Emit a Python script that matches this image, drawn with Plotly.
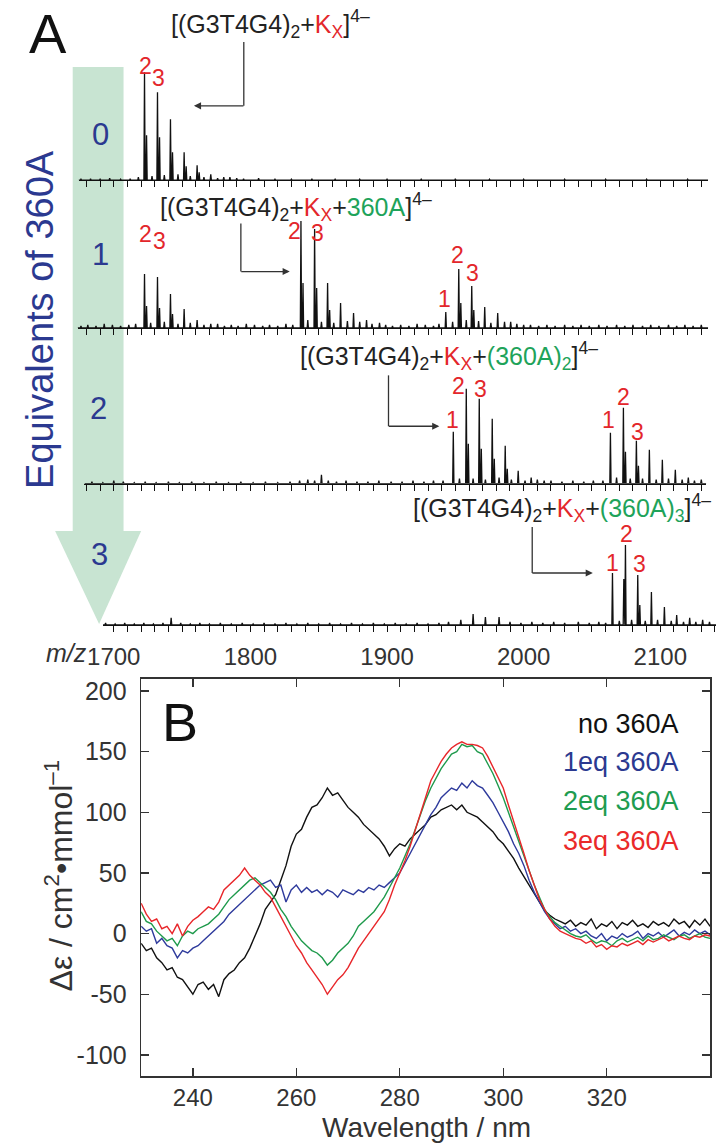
import plotly.graph_objects as go

W, H = 717, 1145
FONT = "Liberation Sans, Arial, sans-serif"
RED = "#e3262b"
GREEN = "#1ea35a"
NAVY = "#2b3990"
GREY = "#333333"

def xp(px):
    return px / W

def yp(py):
    return 1 - py / H

# ---------------- Panel A : mass spectra (m/z, relative intensity) ----------------
mz_label_vals = [1700, 1800, 1900, 2000, 2100]
mz_labels = ["1700", "1800", "1900", "2000", "2100"]

# 0 equivalents
peaks0_mz = [1722.5, 1724.0, 1732.0, 1733.5, 1741.5, 1743.0, 1751.5, 1753.0, 1761.0, 1762.5, 1771.0, 1780.5, 1790.0]
peaks0_h = [108, 45, 88, 43, 61, 28, 28, 14, 15, 8, 6, 3, 2]
noise0_mz = [1676, 1683, 1690, 1697, 1705, 1712, 1718, 1728, 1737, 1747, 1756, 1766, 1776, 1785, 1795,
             1806, 1818, 1830, 1845, 1862, 1880, 1900, 1925, 1950, 1975, 2000, 2030, 2060, 2090, 2120]
noise0_h = [1, 1.5, 1, 2, 1, 1.5, 3, 4, 5, 6, 4, 3, 2, 3, 1.5, 2, 1, 1, 1.5, 1, 1, 1, 1, 1.5, 1, 1, 1, 1, 1, 1]

# 1 equivalent
peaks1_mz = [1722.5, 1724.0, 1732.0, 1733.5, 1741.5, 1743.0, 1751.5, 1761.0, 1771.0,
             1837.0, 1838.5, 1847.0, 1848.5, 1856.5, 1858.0, 1866.0, 1875.5, 1885.0, 1894.5,
             1943.0, 1952.5, 1954.0, 1962.0, 1963.5, 1971.5, 1981.0, 1990.5, 2000.0]
peaks1_h = [54, 22, 51, 20, 34, 14, 19, 8, 4,
            107, 45, 99, 40, 45, 18, 25, 15, 8, 5,
            16, 59, 25, 42, 18, 21, 15, 6, 3]
noise1_mz = [1676, 1681, 1687, 1693, 1699, 1705, 1711, 1716, 1727, 1737, 1747, 1756, 1766, 1776, 1781,
             1786, 1791, 1797, 1803, 1809, 1814, 1820, 1826, 1831, 1842, 1852, 1861, 1871, 1880, 1889,
             1899, 1904, 1910, 1916, 1922, 1928, 1934, 1938, 1948, 1958, 1967, 1976, 1986, 1995, 2005,
             2011, 2017, 2023, 2030, 2036, 2042, 2048, 2055, 2061, 2068, 2074, 2080, 2087, 2093, 2099,
             2106, 2112, 2118, 2124, 2130, 2136]
noise1_h = [2, 3, 2, 4, 3, 2, 3, 4, 5, 6, 4, 5, 3, 4, 2,
            3, 2, 4, 3, 2, 3, 2, 4, 3, 8, 6, 5, 7, 6, 4,
            3, 2, 3, 2, 4, 3, 2, 4, 6, 8, 7, 5, 6, 4, 3,
            2, 3, 2, 3, 2, 3, 2, 3, 2, 3, 2, 3, 2, 3, 2,
            3, 2, 3, 2, 3, 2]

# 2 equivalents
peaks2_mz = [1948.5, 1958.0, 1959.5, 1967.5, 1969.0, 1977.0, 1978.5, 1986.5, 1988.0, 1996.0, 2005.5, 2015.0,
             2063.5, 2073.0, 2074.5, 2082.5, 2084.0, 2092.0, 2101.5, 2111.0, 2120.5, 2130.0]
peaks2_h = [52, 95, 40, 85, 35, 65, 25, 38, 15, 13, 6, 3,
            51, 76, 32, 43, 18, 34, 24, 14, 6, 4]
noise2_mz = [1676, 1684, 1692, 1700, 1707, 1715, 1723, 1731, 1740, 1748, 1757, 1766, 1775, 1784, 1793,
             1802, 1811, 1820, 1829, 1836, 1842, 1847, 1852, 1857, 1863, 1870, 1878, 1886, 1894, 1903,
             1911, 1919, 1927, 1934, 1941, 1953, 1963, 1972, 1982, 1991, 2001, 2010, 2020, 2028, 2036,
             2044, 2051, 2058, 2068, 2078, 2087, 2097, 2106, 2116, 2125, 2134]
noise2_h = [1, 2, 1, 3, 2, 1, 2, 1, 2, 1, 2, 1, 2, 1, 2,
            1, 2, 1, 2, 3, 4, 3, 9, 3, 2, 3, 2, 2, 3, 2,
            2, 3, 2, 3, 3, 5, 5, 4, 6, 4, 3, 4, 3, 2, 3,
            2, 3, 3, 6, 5, 5, 4, 5, 4, 3, 3]

# 3 equivalents
peaks3_mz = [2065.0, 2073.3, 2074.5, 2083.5, 2085.0, 2093.5, 2103.0, 2112.0, 2121.5, 2131.0]
peaks3_h = [52, 46, 80, 50, 20, 33, 18, 10, 7, 5]
noise3_mz = [1694, 1701, 1708, 1715, 1722, 1729, 1736, 1742, 1749, 1756, 1763, 1770, 1778, 1786, 1794,
             1802, 1810, 1818, 1826, 1834, 1842, 1850, 1858, 1866, 1874, 1882, 1890, 1898, 1906, 1914,
             1922, 1930, 1938, 1945, 1954, 1963, 1972, 1982, 1990, 1998, 2006, 2014, 2022, 2030, 2040,
             2048, 2055, 2060, 2070, 2079, 2089, 2098, 2108, 2117, 2126, 2136]
noise3_h = [2, 1, 2, 1, 2, 1, 2, 7, 2, 1, 2, 1, 2, 1, 2,
            1, 2, 1, 2, 1, 2, 1, 2, 1, 2, 1, 2, 1, 2, 1,
            2, 1, 2, 3, 5, 11, 8, 8, 3, 2, 3, 2, 3, 2, 3,
            2, 3, 2, 4, 5, 4, 5, 4, 3, 3, 3]

eq_labels = ["0", "1", "2", "3"]

# ---------------- Panel B : CD spectra ----------------
wavelength = list(range(230, 341))
cd_no = [-8, -14, -12, -20, -24, -30, -28, -36, -38, -44,
         -50, -42, -40, -46, -42, -52, -38, -33, -30, -24,
         -20, -12, -2, 8, 20, 26, 32, 44, 56, 72,
         82, 86, 96, 104, 106, 112, 120, 114, 116, 110,
         104, 100, 96, 90, 86, 82, 78, 72, 64, 70,
         74, 72, 78, 82, 86, 90, 96, 98, 102, 104,
         106, 102, 106, 100, 98, 96, 92, 88, 84, 78,
         74, 68, 62, 54, 47, 40, 32, 25, 19, 15,
         12, 10, 8, 11, 6, 9, 7, 12, 4, 8,
         6, 10, 4, 9, 7, 11, 6, 8, 5, 10,
         7, 9, 6, 12, 8, 10, 5, 11, 7, 12,
         6]
cd_1eq = [6, 2, 4, -8, -4, -10, -12, -20, -14, -16,
          -12, -10, -6, -2, 2, 6, 10, 16, 20, 24,
          28, 32, 36, 40, 42, 44, 38, 40, 26, 36,
          40, 34, 38, 34, 36, 32, 36, 34, 30, 36,
          34, 32, 36, 34, 38, 36, 40, 38, 42, 46,
          50, 58, 66, 74, 82, 90, 98, 104, 112, 116,
          120, 118, 124, 120, 126, 122, 120, 114, 108, 100,
          92, 84, 74, 66, 56, 44, 34, 26, 18, 12,
          8, 4, 6, 2, 4, 0, 2, -2, -4, 0,
          -6, -2, -4, 0, -3, -1, 2, -4, 0, -2,
          1, -3, 0, 3, -2, 1, -1, 3, 0, 2,
          -1]
cd_2eq = [18, 10, 8, 2, -2, -6, -4, -10, -2, 2,
          0, 4, 6, 8, 12, 16, 22, 28, 32, 36,
          40, 44, 46, 42, 38, 34, 28, 20, 14, 6,
          0, -6, -10, -14, -16, -20, -26, -22, -16, -12,
          -8, -2, 6, 10, 14, 18, 24, 30, 38, 46,
          54, 64, 74, 86, 98, 110, 120, 128, 136, 142,
          148, 150, 156, 154, 155, 150, 148, 140, 132, 122,
          112, 100, 88, 76, 64, 52, 40, 30, 20, 14,
          9, 6, 3, 0, -2, -3, -1, -5, -8, -6,
          -7, -10, -6, -4, -7, -5, -3, -6, -2, -5,
          -4, -1, -3, -5, -2, -1, -4, -2, 0, -3,
          -4]
cd_3eq = [25, 16, 10, 12, 4, 6, 0, 8, -2, 6,
          11, 14, 18, 22, 20, 26, 36, 40, 44, 48,
          54, 48, 44, 40, 34, 30, 22, 14, 6, -2,
          -10, -16, -24, -30, -36, -42, -50, -44, -38, -34,
          -28, -20, -12, -6, 0, 6, 11, 18, 28, 40,
          50, 60, 72, 86, 98, 112, 126, 134, 142, 148,
          153, 156, 158, 156, 156, 155, 153, 146, 137, 128,
          120, 106, 93, 80, 66, 52, 39, 28, 20, 12,
          6, 2, 0, -2, -4, -5, -8, -6, -11, -9,
          -13, -10, -11, -8, -10, -8, -6, -9, -5, -7,
          -5, -3, -6, -4, -2, -4, -5, -2, -3, -1,
          -2]
cd_names = ["no 360A", "1eq 360A", "2eq 360A", "3eq 360A"]
cd_colors = ["#111111", "#2e3a9c", "#1f9a4c", "#e8262a"]
wl_ticks = [240, 260, 280, 300, 320]
cd_ticks = [-100, -50, 0, 50, 100, 150, 200]
cd_tick_labels = ["-100", "-50", "0", "50", "100", "150", "200"]

# ---------------- figure ----------------
fig = go.Figure()

PX0, PXS = 100.0, 1.3975  # pixel of m/z 1700, pixels per m/z unit

def mz_at(px):
    return 1700 + (px - PX0) / PXS

spectra = [
    (peaks0_mz, peaks0_h, noise0_mz, noise0_h, 178.5, 64, 708),
    (peaks1_mz, peaks1_h, noise1_mz, noise1_h, 326.5, 63, 708),
    (peaks2_mz, peaks2_h, noise2_mz, noise2_h, 482.5, 70, 706),
    (peaks3_mz, peaks3_h, noise3_mz, noise3_h, 624.0, 89, 716),
]
tick_vals = list(range(1670, 2150, 10))

for i, (pm, ph, nm, nh, base, x0, x1) in enumerate(spectra):
    k = i + 1
    sfx = "" if k == 1 else str(k)
    lo, hi = mz_at(x0), mz_at(x1)
    pts = sorted(list(zip(pm, ph)) + list(zip(nm, nh)))
    xs, ys = [lo], [0]
    for m, v in pts:
        if lo < m < hi:
            xs += [m - 0.45, m, m + 0.45]
            ys += [0, v, 0]
    xs.append(hi)
    ys.append(0)
    fig.add_trace(go.Scatter(x=xs, y=ys, mode="lines", line=dict(color="#111111", width=1.3),
                             xaxis="x" + sfx, yaxis="y" + sfx, showlegend=False, hoverinfo="skip"))
    last = (k == 4)
    fig.layout["xaxis" + sfx] = dict(
        domain=[xp(x0), xp(x1)], range=[lo, hi], anchor="y" + sfx,
        showline=True, linecolor="#111111", linewidth=1.3,
        ticks="outside", ticklen=6, tickwidth=1, tickcolor="#111111",
        tickvals=tick_vals,
        ticktext=[(mz_labels[mz_label_vals.index(v)] if (last and v in mz_label_vals) else "") for v in tick_vals],
        showticklabels=last, showgrid=False, zeroline=False,
        tickfont=dict(family=FONT, size=24, color=GREY),
        ticklabelstandoff=4,
    )
    fig.layout["yaxis" + sfx] = dict(
        domain=[yp(base), yp(base - 125)], range=[0, 125], anchor="x" + sfx,
        visible=False, showgrid=False, zeroline=False,
    )

# CD traces
for vals, name, col in zip([cd_no, cd_1eq, cd_2eq, cd_3eq], cd_names, cd_colors):
    fig.add_trace(go.Scatter(x=wavelength, y=vals, mode="lines", name=name,
                             line=dict(color=col, width=1.4), xaxis="x5", yaxis="y5",
                             showlegend=False, hoverinfo="skip"))

fig.layout["xaxis5"] = dict(
    domain=[xp(128), xp(710)], range=[230, 340], anchor="y5",
    showline=True, mirror="ticks", linecolor=GREY, linewidth=1.5,
    ticks="inside", ticklen=8, tickcolor=GREY, tickwidth=1.3, tickvals=wl_ticks,
    showgrid=False, zeroline=False, tickfont=dict(family=FONT, size=24, color=GREY),
    ticklabelstandoff=0,
)
fig.layout["yaxis5"] = dict(
    domain=[yp(1076), yp(678)], range=[-117.5, 210], anchor="x5",
    showline=True, mirror="ticks", linecolor=GREY, linewidth=1.5,
    ticks="inside", ticklen=8, tickcolor=GREY, tickwidth=1.3,
    tickvals=cd_ticks, ticktext=cd_tick_labels,
    showgrid=False, zeroline=False, tickfont=dict(family=FONT, size=25, color=GREY),
    ticklabelstandoff=8,
)

# ---------------- decorations ----------------
shapes = []
band = "#c8e4d2"
shapes.append(dict(type="rect", xref="paper", yref="paper", x0=xp(58), x1=xp(110), y0=yp(531), y1=yp(65),
                   fillcolor=band, line=dict(width=0), layer="below"))
shapes.append(dict(type="path", xref="paper", yref="paper",
                   path=f"M {xp(40)} {yp(530)} L {xp(128)} {yp(530)} L {xp(85)} {yp(623)} Z",
                   fillcolor=band, line=dict(width=0), layer="below"))

# L-shaped leader segments (vertical parts)
for (xv, y0v, y1v) in [(233, 40, 104), (230, 222, 270), (381, 374, 425), (528, 526, 572)]:
    shapes.append(dict(type="line", xref="paper", yref="paper", x0=xp(xv), x1=xp(xv), y0=yp(y0v), y1=yp(y1v),
                       line=dict(color=GREY, width=1.3)))
fig.update_layout(shapes=shapes)

ann = []

def text(px, py, s, size, color="#222222", xanchor="center", yanchor="middle", angle=0, italic=False):
    ann.append(dict(x=xp(px), y=yp(py), xref="paper", yref="paper", text=s, showarrow=False,
                    xanchor=xanchor, yanchor=yanchor, textangle=angle,
                    font=dict(family=FONT, size=size, color=color,
                              style="italic" if italic else "normal")))

text(33, 32, "A", 56, "#111111")
text(168, 721, "B", 54, "#111111")
text(25, 318, "Equivalents of 360A", 38, NAVY, angle=-90)
for lab, (ex, ey) in zip(eq_labels, [(86, 133), (86, 253), (84, 407), (85, 553)]):
    text(ex, ey, lab, 31, NAVY)

# species labels
def red(s):
    return f"<span style='color:{RED}'>{s}</span>"

def green(s):
    return f"<span style='color:{GREEN}'>{s}</span>"

base_txt = "[(G3T4G4)<sub>2</sub>+" + red("K<sub>X</sub>")
SP = 25
text(156, 22, base_txt + "]<sup>4–</sup>", SP, "#222222", xanchor="left")
text(145, 205, base_txt + "+" + green("360A") + "]<sup>4–</sup>", SP, "#222222", xanchor="left")
text(288, 355, base_txt + "+" + green("(360A)<sub>2</sub>") + "]<sup>4–</sup>", SP, "#222222", xanchor="left")
text(404, 507, base_txt + "+" + green("(360A)<sub>3</sub>") + "]<sup>4–</sup>", SP, "#222222", xanchor="left")

# arrows (horizontal parts)
for (tipx, tipy, tailx) in [(182, 104, 233), (280, 270, 230), (433, 425, 381), (590, 572, 528)]:
    ann.append(dict(x=xp(tipx), y=yp(tipy), xref="paper", yref="paper", ax=tailx - tipx, ay=0,
                    axref="pixel", ayref="pixel", showarrow=True, arrowhead=2, arrowsize=1.1,
                    arrowwidth=1.3, arrowcolor=GREY, text=""))

# isotope / K+ count labels on peaks
peak_labels = [
    ("2", 132, 64), ("3", 146, 76),
    ("2", 132, 232), ("3", 147, 239), ("2", 285, 229), ("3", 308, 231),
    ("1", 438, 298), ("2", 452, 253), ("3", 467, 271),
    ("1", 446, 419), ("2", 453, 385), ("3", 475, 388),
    ("1", 606, 419), ("2", 621, 396), ("3", 636, 431),
    ("1", 610, 562), ("2", 624, 533), ("3", 638, 563),
]
for lab, lx, ly in peak_labels:
    text(lx, ly, lab, 23, RED)

text(75, 652, "m/z", 25, GREY, xanchor="right", italic=True)

# CD legend
for name, col, ly in zip(cd_names, ["#111111", "#2b3990", "#1e9c50", "#ea2a2a"], [723, 761, 800, 840]):
    text(680, ly, name, 27, col, xanchor="right")

# axis titles
text(420, 1145, "Wavelength / nm", 28, GREY, yanchor="bottom")
text(44, 875, "Δε / cm<sup>2</sup>•mmol<sup>–1</sup>", 32, GREY, angle=-90)

fig.update_layout(
    annotations=ann,
    width=W, height=H,
    margin=dict(l=0, r=0, t=0, b=0),
    paper_bgcolor="white", plot_bgcolor="white",
    showlegend=False,
    font=dict(family=FONT),
)

fig.write_html("out.html",
               config={"displayModeBar": False, "staticPlot": True},
               post_script="document.body.style.margin='0px';document.documentElement.style.overflow='hidden';")
